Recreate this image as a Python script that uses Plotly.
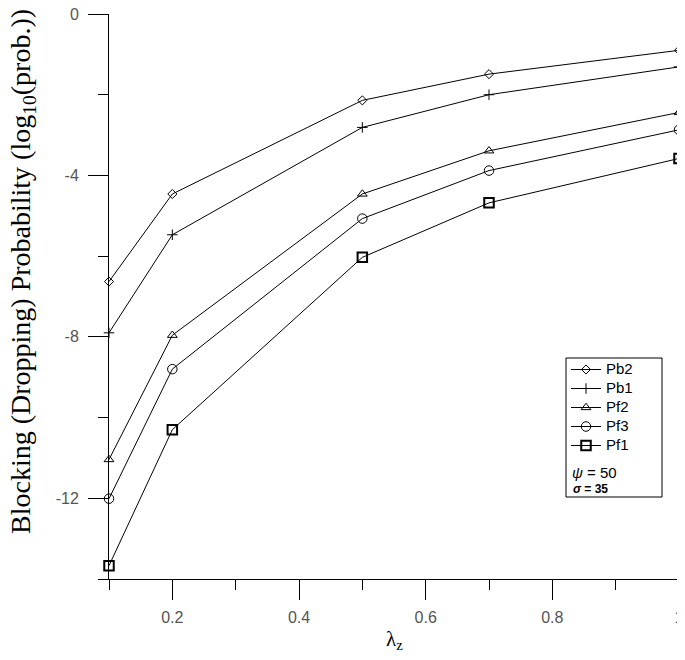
import plotly.graph_objects as go

# ---- data ----
lam = [0.1, 0.2, 0.5, 0.7, 1.0]
pb2 = [-6.63, -4.46, -2.14, -1.49, -0.90]
pb1 = [-7.90, -5.47, -2.81, -2.00, -1.31]
pf2 = [-11.04, -7.96, -4.46, -3.39, -2.44]
pf3 = [-12.01, -8.80, -5.07, -3.88, -2.87]
pf1 = [-13.67, -10.30, -6.03, -4.68, -3.58]

series_names = ["Pb2", "Pb1", "Pf2", "Pf3", "Pf1"]
series_values = [pb2, pb1, pf2, pf3, pf1]

x_tick_vals = [0.2, 0.4, 0.6, 0.8, 1.0]
x_tick_labels = ["0.2", "0.4", "0.6", "0.8", "1"]
x_minor_vals = [0.1, 0.3, 0.5, 0.7, 0.9]
y_tick_vals = [0, -4, -8, -12]
y_tick_labels = ["0", "-4", "-8", "-12"]
y_minor_vals = [-2, -6, -10, -14]

psi_text = "ψ"
psi_value = "50"
sigma_text = "σ"
sigma_value = "35"

# ---- styles ----
styles = {
    "Pb2": dict(symbol="diamond-open", size=7, lw=1),
    "Pb1": dict(symbol="cross-thin-open", size=7.5, lw=1),
    "Pf2": dict(symbol="triangle-up-open", size=8.5, lw=1),
    "Pf3": dict(symbol="circle-open", size=9.5, lw=1),
    "Pf1": dict(symbol="square-open", size=9.5, lw=2),
}

# page body has an 8px margin; reference pixel coords are mapped through it
OFF = 8
PAGE_W, PAGE_H = 685, 660
PLOT_X0, PLOT_X1 = 109, 679   # reference pixel extent of the plot area
PLOT_Y0, PLOT_Y1 = 14, 579

W, H = PAGE_W - OFF, PAGE_H - OFF
L = PLOT_X0 - OFF
R = PAGE_W - PLOT_X1
T = PLOT_Y0 - OFF
B = PAGE_H - PLOT_Y1
pw, ph = PLOT_X1 - PLOT_X0, PLOT_Y1 - PLOT_Y0


def px(xp):
    return (xp - PLOT_X0) / pw


def py(yp):
    return (PLOT_Y1 - yp) / ph


fig = go.Figure()
for name, vals in zip(series_names, series_values):
    st = styles[name]
    fig.add_trace(go.Scatter(
        x=lam, y=vals, name='<span style="font-size:15px">' + name + '</span>',
        mode="lines+markers",
        line=dict(color="black", width=1),
        marker=dict(symbol=st["symbol"], size=st["size"], color="black",
                    line=dict(color="black", width=st["lw"])),
        cliponaxis=False,
    ))

tickfont = dict(family="Liberation Sans", size=16, color="#555555")

fig.update_layout(
    width=W, height=H,
    margin=dict(l=L, r=R, t=T, b=B, autoexpand=False),
    paper_bgcolor="white", plot_bgcolor="white",
    showlegend=True,
    legend=dict(
        x=px(566), y=py(355), xanchor="left", yanchor="top",
        bgcolor="rgba(0,0,0,0)", borderwidth=0,
        font=dict(family="Liberation Sans", size=11, color="black"),
        tracegroupgap=0, itemwidth=30,
    ),
    xaxis=dict(
        range=[0.1, 1.0], showline=True, linecolor="black", linewidth=1,
        showgrid=False, zeroline=False, automargin=False,
        ticks="outside", ticklen=20, tickwidth=1, tickcolor="black",
        tickmode="array", tickvals=x_tick_vals, ticktext=x_tick_labels,
        tickfont=tickfont, ticklabelstandoff=4, ticklabeloverflow="allow",
        minor=dict(tickmode="array", tickvals=x_minor_vals, ticks="outside",
                   ticklen=10, tickwidth=1, tickcolor="black", showgrid=False),
    ),
    yaxis=dict(
        range=[-14, 0], showline=True, linecolor="black", linewidth=1,
        showgrid=False, zeroline=False, automargin=False,
        ticks="outside", ticklen=20, tickwidth=1, tickcolor="black",
        tickmode="array", tickvals=y_tick_vals, ticktext=y_tick_labels,
        tickfont=tickfont, ticklabelstandoff=6, ticklabeloverflow="allow",
        minor=dict(tickmode="array", tickvals=y_minor_vals, ticks="outside",
                   ticklen=10, tickwidth=1, tickcolor="black", showgrid=False),
    ),
    shapes=[dict(type="rect", xref="paper", yref="paper",
                 x0=px(566), x1=px(662), y0=py(497), y1=py(358),
                 line=dict(color="black", width=1), fillcolor="rgba(0,0,0,0)")],
    annotations=[
        dict(text="Blocking (Dropping) Probability (log<sub>10</sub>(prob.))",
             xref="paper", yref="paper", x=px(22), y=py(272),
             xanchor="center", yanchor="middle", textangle=-90, showarrow=False,
             font=dict(family="Liberation Serif", size=28, color="black")),
        dict(text="λ<sub>z</sub>", xref="paper", yref="paper",
             x=px(394), y=py(640), xanchor="center", yanchor="middle",
             showarrow=False,
             font=dict(family="Liberation Serif", size=21, color="black")),
        dict(text="<i>" + psi_text + "</i> = " + psi_value, xref="paper", yref="paper",
             x=px(570), y=py(472), xanchor="left", yanchor="middle", showarrow=False,
             font=dict(family="Liberation Sans", size=15, color="black")),
        dict(text="<b><i>" + sigma_text + "</i> = " + sigma_value + "</b>",
             xref="paper", yref="paper",
             x=px(571), y=py(489), xanchor="left", yanchor="middle", showarrow=False,
             font=dict(family="Liberation Sans", size=12, color="black")),
    ],
)

fig.write_html("out.html")
